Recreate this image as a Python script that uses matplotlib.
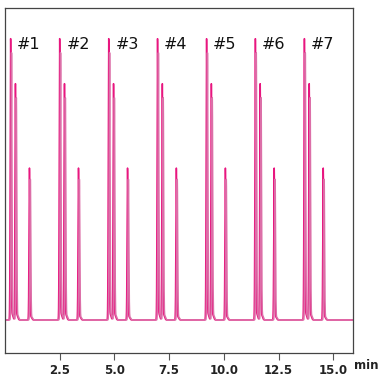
import numpy as np
import matplotlib.pyplot as plt

# injection start times (min)
runStarts = [0.26, 2.50, 4.74, 6.97, 9.21, 11.44, 13.68]
runLabels = ["#1", "#2", "#3", "#4", "#5", "#6", "#7"]

# peaks inside each run: offset from run start (min) and height (% of main peak)
peakOffsets = [0.0, 0.22, 0.86]
heightsA = [100, 84, 54]
heightsB = [95, 79, 50]
shiftB = 0.04
peakWidth = 0.02

xTicks = [2.5, 5.0, 7.5, 10.0, 12.5, 15.0]


def trace(heights, shift):
    t = np.linspace(0, 16, 16000)
    y = np.zeros_like(t)
    for start in runStarts:
        for off, h in zip(peakOffsets, heights):
            c = start + off + shift
            y += h * np.exp(-0.5 * ((t - c) / peakWidth) ** 2)
            # small foot after each peak
            y += 0.02 * h * np.exp(-0.5 * ((t - c - 0.07) / 0.04) ** 2)
    return t, y


fig = plt.figure(figsize = (3.8, 3.76), dpi = 100)
ax = fig.add_axes([0.013, 0.061, 0.916, 0.918])

tA, yA = trace(heightsA, 0.0)
tB, yB = trace(heightsB, shiftB)
ax.plot(tA, yA, color = "#e8167f", linewidth = 1.1)
ax.plot(tB, yB, color = "#dc6fa8", linewidth = 1.1)

for start, label in zip(runStarts, runLabels):
    ax.text(start + 0.84, 98.5, label, fontsize = 11.5, ha = "center", va = "center", color = "#111111")

ax.set_xlim(0, 15.9)
ax.set_ylim(-11.8, 111.4)
ax.set_yticks([])
ax.set_xticks(xTicks)
ax.set_xticklabels([f"{v:.1f}" for v in xTicks], fontsize = 8.5, fontweight = "bold", color = "#222222")
ax.tick_params(axis = "x", direction = "out", length = 5, width = 0.8, color = "#555555", pad = 3)
for s in ax.spines.values():
    s.set_color("#444444")
    s.set_linewidth(0.9)

fig.text(0.963, 0.027, "min", fontsize = 8.5, fontweight = "bold", ha = "center", va = "center", color = "#222222")

fig.savefig("out.png", dpi = 100)
